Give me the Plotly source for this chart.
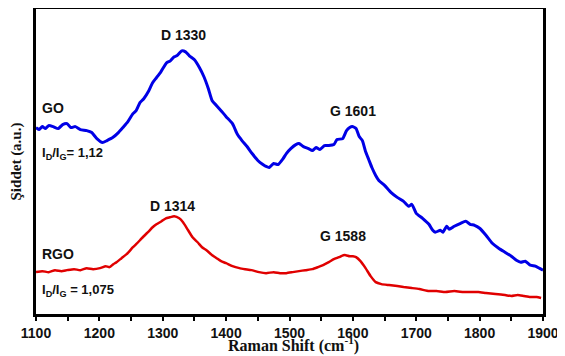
import plotly.graph_objects as go

# GO spectrum (blue) - Raman shift (cm-1) and intensity (a.u.)
go_shift = [1100, 1105, 1110, 1115, 1120, 1127, 1135, 1142, 1149, 1155, 1162, 1170, 1180, 1188, 1196,
            1205, 1212, 1221, 1230, 1237, 1245, 1253, 1258, 1264, 1270, 1278, 1284, 1290, 1297, 1306,
            1312, 1318, 1322, 1330, 1336, 1342, 1350, 1358, 1365, 1372, 1378, 1385, 1392, 1400, 1410,
            1418, 1425, 1433, 1441, 1450, 1458, 1463, 1468, 1475, 1482, 1490, 1495, 1502, 1510, 1515,
            1522, 1530, 1536, 1542, 1548, 1555, 1562, 1570, 1575, 1584, 1590, 1595, 1599, 1605, 1610,
            1615, 1620, 1625, 1630, 1636, 1641, 1650, 1660, 1670, 1680, 1688, 1693, 1700, 1710, 1720,
            1726, 1730, 1738, 1742, 1748, 1752, 1760, 1770, 1778, 1785, 1792, 1800, 1810, 1820, 1830,
            1840, 1850, 1858, 1865, 1872, 1880, 1888, 1894, 1900]
go_int = [189, 187, 190, 188, 191, 190, 188, 192, 193, 189, 190, 187, 186, 184, 178,
          174, 176, 179, 184, 189, 195, 203, 206, 214, 218, 226, 234, 239, 245, 254,
          256, 260, 261, 266, 265, 261, 257, 249, 240, 228, 216, 211, 206, 200, 193,
          182, 176, 170, 163, 156, 152, 150, 149, 153, 152, 158, 163, 168, 172, 173,
          170, 168, 166, 169, 167, 171, 171, 172, 177, 178, 186, 189, 190, 188, 180,
          176, 165, 157, 149, 141, 136, 131, 124, 119, 115, 110, 112, 103, 98, 92,
          86, 84, 86, 84, 90, 87, 90, 93, 95, 92, 91, 88, 81, 73, 68,
          64, 60, 56, 54, 55, 51, 50, 48, 46]

# RGO spectrum (red)
rgo_shift = [1100, 1110, 1120, 1130, 1140, 1149, 1160, 1170, 1180, 1190, 1201, 1210, 1216, 1222, 1227,
             1235, 1243, 1253, 1258, 1264, 1270, 1278, 1284, 1290, 1298, 1305, 1311, 1318, 1326, 1332,
             1340, 1347, 1355, 1362, 1369, 1378, 1385, 1392, 1400, 1410, 1421, 1430, 1440, 1452, 1463,
             1475, 1485, 1495, 1505, 1515, 1525, 1536, 1545, 1553, 1562, 1570, 1578, 1585, 1589, 1595,
             1600, 1605, 1612, 1620, 1628, 1636, 1645, 1657, 1670, 1680, 1693, 1705, 1720, 1732, 1746,
             1760, 1775, 1785, 1798, 1810, 1825, 1840, 1850, 1860, 1870, 1880, 1890, 1897]
rgo_int = [44, 45, 44, 46, 45, 46, 47, 46, 48, 47, 48, 50, 49, 52, 54,
           58, 62, 69, 72, 76, 80, 85, 89, 92, 95, 98, 99, 100, 98, 94,
           86, 79, 74, 69, 66, 61, 58, 55, 53, 50, 48, 47, 46, 44, 43,
           44, 43, 43, 44, 45, 46, 47, 49, 51, 54, 57, 59, 61, 61, 60,
           60, 59, 55, 48, 40, 34, 32, 31, 30, 29, 28, 27, 25, 25, 24,
           25, 24, 24, 24, 23, 22, 21, 20, 21, 20, 19, 19, 18]

x_ticks = [1100, 1200, 1300, 1400, 1500, 1600, 1700, 1800, 1900]
x_title = "<b>Raman Shift (cm<sup>-1</sup>)</b>"
y_title = "Şiddet (a.u.)"

# Text labels: (text, x, y, anchor, size)
labels = [
    ("<b>D 1330</b>", 1332, 282, "center", 14),
    ("<b>G 1601</b>", 1600, 206, "center", 14),
    ("<b>GO</b>", 1107, 209, "left", 14),
    ("<b>I<sub>D</sub>/I<sub>G</sub>= 1,12</b>", 1106, 163, "left", 13),
    ("<b>D 1314</b>", 1315, 110, "center", 14),
    ("<b>RGO</b>", 1107, 62, "left", 14),
    ("<b>I<sub>D</sub>/I<sub>G</sub> = 1,075</b>", 1106, 26, "left", 13),
    ("<b>G 1588</b>", 1584, 80, "center", 14),
]

fig = go.Figure()
fig.add_trace(go.Scatter(x=go_shift, y=go_int, mode="lines",
                         line=dict(color="#0000E6", width=3, shape="spline", smoothing=0.5),
                         showlegend=False))
fig.add_trace(go.Scatter(x=rgo_shift, y=rgo_int, mode="lines",
                         line=dict(color="#E00000", width=2.5, shape="spline", smoothing=0.5),
                         showlegend=False))

for text, x, y, anchor, size in labels:
    fig.add_annotation(x=x, y=y, text=text, showarrow=False, xanchor=anchor, yanchor="middle",
                       font=dict(family="Liberation Sans, Arial", size=size, color="#111"))

# x axis title as an annotation for precise placement
fig.add_annotation(x=0.508, y=0, xref="paper", yref="paper", xanchor="center", yanchor="top",
                   yshift=-19, text=x_title, showarrow=False, borderpad=0,
                   font=dict(family="Liberation Serif, Times New Roman", size=16, color="#111"))

fig.update_layout(
    width=557, height=348,
    margin=dict(l=28, r=22, t=1, b=42, autoexpand=False),
    paper_bgcolor="white", plot_bgcolor="white",
    xaxis=dict(range=[1100, 1900], tickvals=x_ticks, ticks="outside", ticklen=4, tickwidth=2,
               tickcolor="black", showline=True, linewidth=2.5, linecolor="black", mirror=True,
               showgrid=False, zeroline=False, automargin=False,
               minor=dict(dtick=50, tick0=1100, ticks="outside", ticklen=4, tickwidth=2, tickcolor="black"),
               tickfont=dict(family="Liberation Sans, Arial", size=14, color="#111", weight="bold")),
    yaxis=dict(range=[2, 308], showticklabels=False, ticks="", showline=True, linewidth=2.5,
               linecolor="black", mirror=True, showgrid=False, zeroline=False, automargin=False,
               title=dict(text=y_title, standoff=13,
                          font=dict(family="Liberation Serif, Times New Roman", size=15,
                                    color="#111", weight="bold"))),
)

fig.write_html("out.html")
